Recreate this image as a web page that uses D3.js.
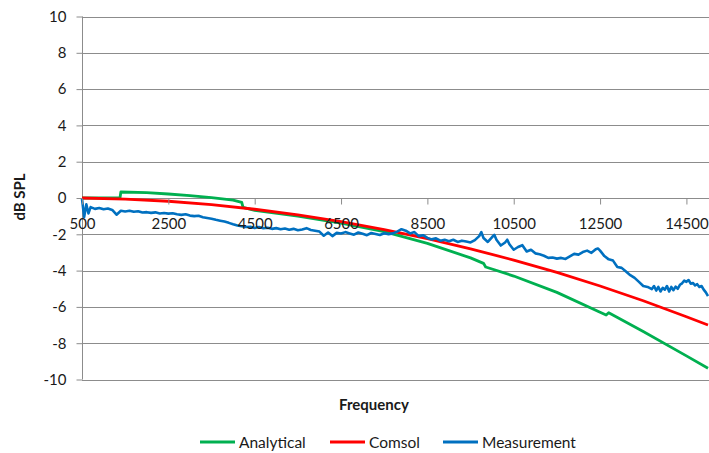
<!DOCTYPE html>
<html>
<head>
<meta charset="utf-8">
<script src="https://cdn.jsdelivr.net/npm/d3@7"></script>
<style>
  html, body { margin: 0; padding: 0; background: #fff; }
  svg { display: block; font-family: Lato, "Open Sans", sans-serif; }
</style>
</head>
<body>
<svg id="chart" width="709" height="453"></svg>
<script>
// ---- data ----
const xTicks = [500, 2500, 4500, 6500, 8500, 10500, 12500, 14500];
const yTicks = [-10, -8, -6, -4, -2, 0, 2, 4, 6, 8, 10];
const seriesNames = ["Analytical", "Comsol", "Measurement"];
const seriesColors = ["#00B050", "#FF0000", "#0070C0"];

const analyticalFreq = [500, 1000, 1380, 1400, 2000, 2500, 3000, 3500, 4000, 4200, 4230, 4500, 5500, 6500, 7500, 8500, 9500, 9800, 9850, 10500, 11500, 12500, 12640, 12700, 13500, 14500, 15000];
const analyticalDb   = [0, 0, 0, 0.33, 0.30, 0.22, 0.13, 0.02, -0.12, -0.24, -0.52, -0.68, -1.0, -1.38, -1.85, -2.5, -3.3, -3.6, -3.8, -4.3, -5.2, -6.3, -6.45, -6.32, -7.35, -8.7, -9.38];

const comsolFreq = [500, 1500, 2500, 3500, 4500, 5500, 6500, 7500, 8500, 9500, 10500, 11500, 12500, 13500, 14500, 15000];
const comsolDb   = [0, -0.06, -0.18, -0.37, -0.62, -0.93, -1.30, -1.74, -2.24, -2.80, -3.42, -4.10, -4.85, -5.66, -6.54, -7.0];

const measFreq = [500, 550, 600, 650, 700, 800, 900, 1000, 1100, 1200, 1300, 1400, 1500, 1600, 1700, 1800, 1900,
  2000, 2100, 2200, 2300, 2400, 2500, 2600, 2700, 2800, 2900, 3000, 3100, 3200, 3300, 3400, 3500, 3600, 3700, 3800, 3900,
  4000, 4100, 4200, 4300, 4400, 4500, 4600, 4700, 4800, 4900, 5000, 5100, 5200, 5300, 5400, 5500, 5600, 5700, 5800, 5900,
  6000, 6100, 6200, 6300, 6400, 6500, 6600, 6700, 6800, 6900, 7000, 7100, 7200, 7300, 7400, 7500, 7600, 7700, 7800, 7900,
  8000, 8100, 8200, 8300, 8400, 8500, 8600, 8700, 8800, 8900, 9000, 9100, 9200, 9300, 9400, 9500, 9600, 9700, 9750, 9800, 9900,
  10000, 10050, 10100, 10200, 10300, 10350, 10400, 10500, 10600, 10700, 10800, 10900, 11000, 11100, 11200, 11300, 11400, 11500,
  11600, 11700, 11800, 11900, 12000, 12100, 12200, 12300, 12400, 12450, 12500, 12600, 12700, 12800, 12900, 13000, 13100, 13200,
  13300, 13400, 13500, 13600, 13700, 13750, 13800, 13850, 13900, 13950, 14000, 14050, 14100, 14150, 14200, 14250, 14300, 14350,
  14400, 14450, 14500, 14550, 14600, 14650, 14700, 14750, 14800, 14850, 14900, 14950, 15000];
const measDb = [-0.05, -1.05, -0.35, -0.85, -0.5, -0.6, -0.55, -0.62, -0.58, -0.66, -0.92, -0.7, -0.74, -0.7, -0.76, -0.73, -0.8,
  -0.78, -0.82, -0.79, -0.85, -0.83, -0.86, -0.84, -0.9, -0.93, -0.9, -0.97, -1.0, -0.98, -1.06, -1.1, -1.14, -1.2, -1.25, -1.3, -1.37,
  -1.45, -1.52, -1.56, -1.6, -1.58, -1.65, -1.6, -1.67, -1.64, -1.7, -1.66, -1.72, -1.68, -1.75, -1.7, -1.78, -1.73, -1.66, -1.76, -1.8,
  -1.85, -2.08, -1.9, -2.1, -1.92, -1.96, -1.88, -1.95, -2.02, -1.9, -1.97, -2.05, -1.93, -1.98, -2.04, -1.94, -2.0, -1.95, -1.85, -1.72,
  -1.8, -1.95, -1.88, -2.1, -2.05, -2.2, -2.28, -2.22, -2.35, -2.3, -2.38, -2.3, -2.42, -2.35, -2.4, -2.45, -2.32, -2.1, -1.88, -2.2, -2.42,
  -2.15, -2.03, -2.3, -2.62, -2.45, -2.3, -2.55, -2.85, -2.7, -2.6, -2.95, -2.85, -3.05, -3.1, -3.18, -3.3, -3.28, -3.34,
  -3.3, -3.36, -3.22, -3.08, -3.12, -2.98, -2.9, -3.02, -2.82, -2.78, -2.9, -3.2, -3.38, -3.45, -3.8, -3.85, -4.05, -4.25,
  -4.4, -4.62, -4.85, -4.9, -5.02, -4.85, -5.1, -4.9, -5.15, -4.95, -5.05, -4.85, -5.15, -4.9, -5.08, -4.88, -5.0, -4.78,
  -4.7, -4.55, -4.62, -4.52, -4.72, -4.68, -4.82, -4.75, -4.9, -4.85, -5.05, -5.2, -5.4];

// ---- chart ----
const svg = d3.select("#chart");
const x = d3.scaleLinear().domain([500, 15000]).range([82, 708]);
const y = d3.scaleLinear().domain([-10, 10]).range([379.5, 16.5]);
const gridColor = "#8c8c8c";
const textColor = "#1a1a1a";

// gridlines
svg.append("g").selectAll("line").data(yTicks).join("line")
  .attr("x1", x(500)).attr("x2", 709)
  .attr("y1", d => Math.round(y(d)) + 0.5).attr("y2", d => Math.round(y(d)) + 0.5)
  .attr("stroke", gridColor).attr("stroke-width", 1);

// y axis
const yAxis = d3.axisLeft(y).tickValues(yTicks).tickSize(6).tickPadding(10).tickFormat(d => String(d));
const gy = svg.append("g").attr("transform", `translate(${Math.round(x(500)) + 0.5},0)`).call(yAxis);
gy.select(".domain").attr("stroke", gridColor).attr("d", `M0,${y(10)}V${y(-10)}`);
gy.selectAll(".tick line").attr("stroke", gridColor);
gy.selectAll(".tick text").attr("font-size", 15).attr("fill", textColor)
  .style("font-family", "Lato, sans-serif");

// x axis at y=0
const xAxis = d3.axisBottom(x).tickValues(xTicks).tickSize(6).tickPadding(14).tickFormat(d => String(d));
const gx = svg.append("g").attr("transform", `translate(0,${Math.round(y(0)) + 0.5})`).call(xAxis);
gx.select(".domain").remove();
gx.selectAll(".tick line").attr("stroke", gridColor);

// series lines
const series = [
  { f: analyticalFreq, v: analyticalDb },
  { f: comsolFreq, v: comsolDb },
  { f: measFreq, v: measDb }
];
const line = d3.line().x(d => x(d[0])).y(d => y(d[1]));
series.forEach((s, i) => {
  const pts = s.f.map((f, j) => [f, s.v[j]]);
  svg.append("path").datum(pts)
    .attr("d", line)
    .attr("fill", "none")
    .attr("stroke", seriesColors[i])
    .attr("stroke-width", i === 2 ? 2.6 : 2.8)
    .attr("stroke-linejoin", "round");
});

// x tick labels drawn on top of lines
gx.raise();
gx.selectAll(".tick text").attr("font-size", 15).attr("fill", textColor)
  .style("font-family", "Lato, sans-serif");

// axis titles
svg.append("text")
  .attr("transform", `translate(25,197) rotate(-90)`)
  .attr("text-anchor", "middle")
  .attr("font-size", 15).attr("font-weight", "bold").attr("fill", textColor)
  .text("dB SPL");
svg.append("text")
  .attr("x", 374).attr("y", 410)
  .attr("text-anchor", "middle")
  .attr("font-size", 15).attr("font-weight", "bold").attr("fill", textColor)
  .text("Frequency");

// legend
const legendX = [200, 330, 443];
const legend = svg.append("g");
seriesNames.forEach((name, i) => {
  legend.append("line")
    .attr("x1", legendX[i]).attr("x2", legendX[i] + 35)
    .attr("y1", 442).attr("y2", 442)
    .attr("stroke", seriesColors[i]).attr("stroke-width", 3);
  legend.append("text")
    .attr("x", legendX[i] + 39).attr("y", 447.5)
    .attr("font-size", 15.5).attr("fill", textColor)
    .text(name);
});
</script>
</body>
</html>
